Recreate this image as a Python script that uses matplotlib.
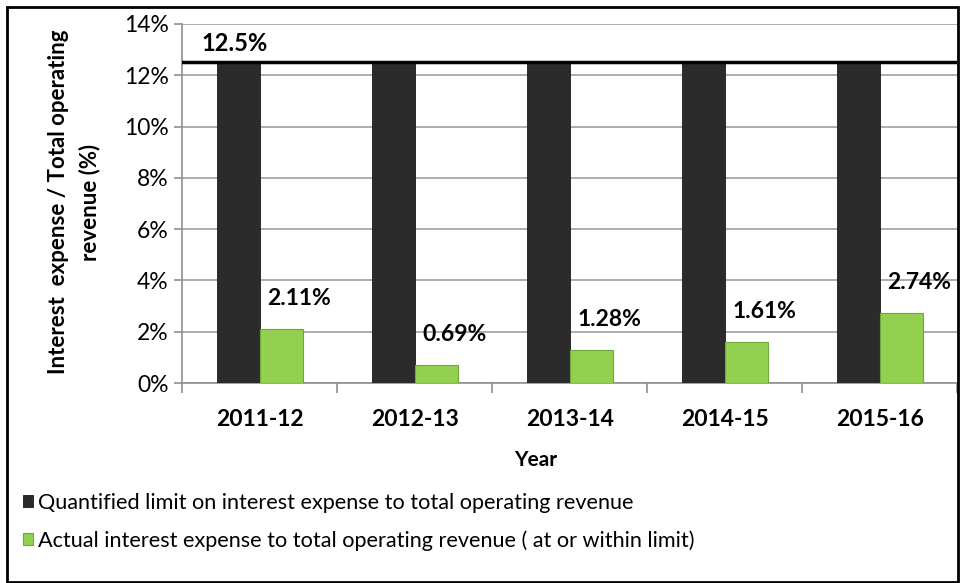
import matplotlib.pyplot as plt
from matplotlib.patches import Rectangle
from matplotlib.ticker import FuncFormatter, FixedLocator
import numpy as np

plt.rcParams['font.family'] = ['Lato', 'DejaVu Sans']

years = ['2011-12', '2012-13', '2013-14', '2014-15', '2015-16']
limit = [12.5, 12.5, 12.5, 12.5, 12.5]
actual = [2.11, 0.69, 1.28, 1.61, 2.74]
limit_label = 'Quantified limit on interest expense to total operating revenue'
actual_label = 'Actual interest expense to total operating revenue ( at or within limit)'

fig = plt.figure(figsize=(9.6, 5.83), dpi=100)
ax = fig.add_axes([0.19, 0.343, 0.807, 0.616])

x = np.arange(len(years))
w = 0.277
b1 = ax.bar(x - w / 2, limit, w, color='#2b2b2b', edgecolor='#1a1a1a', lw=0.6,
            label=limit_label, zorder=3)
b2 = ax.bar(x + w / 2, actual, w, color='#92d050', edgecolor='#6fa83a', lw=0.8,
            label=actual_label, zorder=3)

# limit line across the plot
ax.axhline(limit[0], color='black', lw=2.5, zorder=4)
ax.text(0.12 - 0.5, limit[0] + 0.3, f'{limit[0]}%', fontsize=17, fontweight='bold',
        ha='left', va='bottom')

# value labels over the green bars
for xi, v in zip(x, actual):
    ax.annotate(f'{v:.2f}%', (xi + w / 2, v), xytext=(18, 20), textcoords='offset pixels',
                ha='center', va='bottom', fontsize=16.5, fontweight='bold')

ax.set_xlim(-0.5, 4.5)
ax.set_ylim(0, 14)
ax.set_yticks(np.arange(0, 15, 2))
ax.yaxis.set_major_formatter(FuncFormatter(lambda v, p: f'{v:.0f}%'))
ax.grid(axis='y', color='#a0a0a0', lw=1.2, zorder=0)

ax.set_xticks(x)
ax.set_xticklabels(years, fontsize=16.5, fontweight='bold')
ax.xaxis.set_minor_locator(FixedLocator(np.arange(-0.5, 5, 1)))
ax.tick_params(axis='x', which='major', length=0, pad=19)
ax.tick_params(axis='x', which='minor', length=7, color='#909090', width=1.2)
ax.tick_params(axis='y', length=6, color='#909090', width=1.2, labelsize=16.5, pad=4)

for s in ['top', 'right']:
    ax.spines[s].set_visible(False)
for s in ['left', 'bottom']:
    ax.spines[s].set_color('#909090')
    ax.spines[s].set_linewidth(1.2)

fig.text(0.5583, 1 - 460 / 583, 'Year', fontsize=15, fontweight='bold', ha='center', va='center')
fig.text(74 / 960, 1 - 202 / 583, 'Interest  expense / Total operating\nrevenue (%)',
         rotation=90, fontsize=16, fontweight='bold', ha='center', va='center',
         multialignment='center', linespacing=1.55)

fig.legend(handles=[b1, b2], loc='upper left', bbox_to_anchor=(0.015, 1 - 484 / 583),
           frameon=False, fontsize=15.6, handlelength=0.45, handleheight=0.45,
           handletextpad=0.25, labelspacing=0.8, borderaxespad=0)

# outer frame
fig.patches.append(Rectangle((7 / 960, 1 / 583), 951 / 960, 575 / 583, transform=fig.transFigure,
                             fill=False, edgecolor='black', lw=2))

fig.savefig('out.png', dpi=100)
